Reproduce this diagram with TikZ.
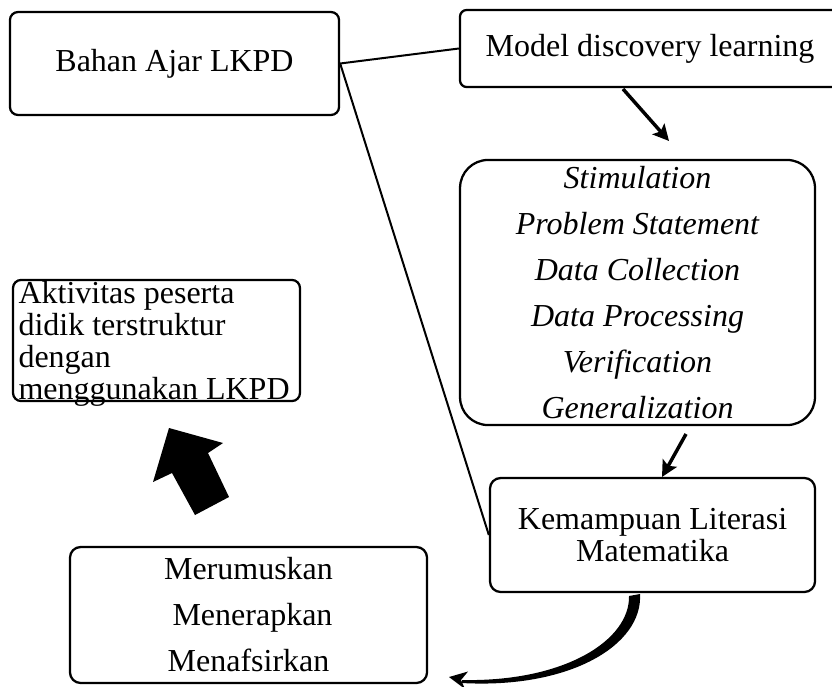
\documentclass[tikz,border=0pt]{standalone}
\usepackage{fontspec}
\setmainfont{Liberation Serif}
\usetikzlibrary{arrows.meta}
\begin{document}
\begin{tikzpicture}[x=0.375pt,y=-0.375pt,
  box/.style={draw, line width=0.85pt, rounded corners=3pt, inner sep=0pt, align=center, font=\fontsize{12}{14}\selectfont},
  link/.style={line width=0.75pt},
  arr/.style={line width=1.3pt, -{Stealth[length=6pt,width=6pt,inset=1.2pt]}},
]
\useasboundingbox (0,0) rectangle (832,686);
% boxes
\node[box, minimum width=123.4pt, minimum height=38.6pt] (bahan) at (174.5,63.5) {Bahan Ajar LKPD};
\node[box, rounded corners=2.5pt, minimum width=142.5pt, minimum height=28.9pt] (model) at (650,48.5) {Model discovery learning};
\node[box, rounded corners=10.5pt, minimum width=133.1pt, minimum height=99.4pt,
      font=\fontsize{12}{17.25}\selectfont\itshape] (stim) at (637.5,292.5)
  {Stimulation\\Problem Statement\\Data Collection\\Data Processing\\Verification\\Generalization};
\node[box, rounded corners=4pt, minimum width=121.9pt, minimum height=42.75pt,
      font=\fontsize{12}{10.2}\selectfont] (kem) at (652.5,535) {Kemampuan Literasi\\Matematika};
\node[box, rounded corners=3pt, minimum width=107.6pt, minimum height=45.4pt] (akt) at (156.5,340.5) {};
\node[anchor=north west, inner sep=0pt, align=left, font=\fontsize{12}{12}\selectfont] (akttext) at (18,281)
  {Aktivitas peserta\\didik terstruktur\\dengan\\menggunakan LKPD};
\node[box, rounded corners=4pt, minimum width=133.9pt, minimum height=51pt,
      font=\fontsize{12}{17.25}\selectfont] (mer) at (248.5,615) {Merumuskan\\\hspace*{3pt}Menerapkan\\Menafsirkan};
% plain connectors
\draw[link] (bahan.east) -- (model.west);
\draw[link] (bahan.east) -- (kem.west);
% straight arrows
\coordinate (a1s) at (623,89);
\coordinate (a1e) at (669,141);
\draw[arr] (a1s) -- (a1e);
\coordinate (a2s) at (686,434);
\coordinate (a2e) at (662,477);
\draw[arr] (a2s) -- (a2e);
% curved tapered arrow from kem to mer
\coordinate (c1) at (640,594);
\coordinate (c2) at (462,683);
\coordinate (c3) at (462,680);
\coordinate (c4) at (629,596);
\fill (c1) .. controls (643,645) and (570,689) .. (c2) -- (c3) .. controls (565,682) and (630,640) .. (c4) -- cycle;
\coordinate (tip) at (449,677);
\fill (tip) -- (468,671.5) -- (461,680) -- (465,689) -- cycle;
% big block arrow
\fill (169,428) -- (223,443) -- (208,453) -- (229,497) -- (195,515) -- (172,473) -- (153,482) -- cycle;
\end{tikzpicture}
\end{document}
